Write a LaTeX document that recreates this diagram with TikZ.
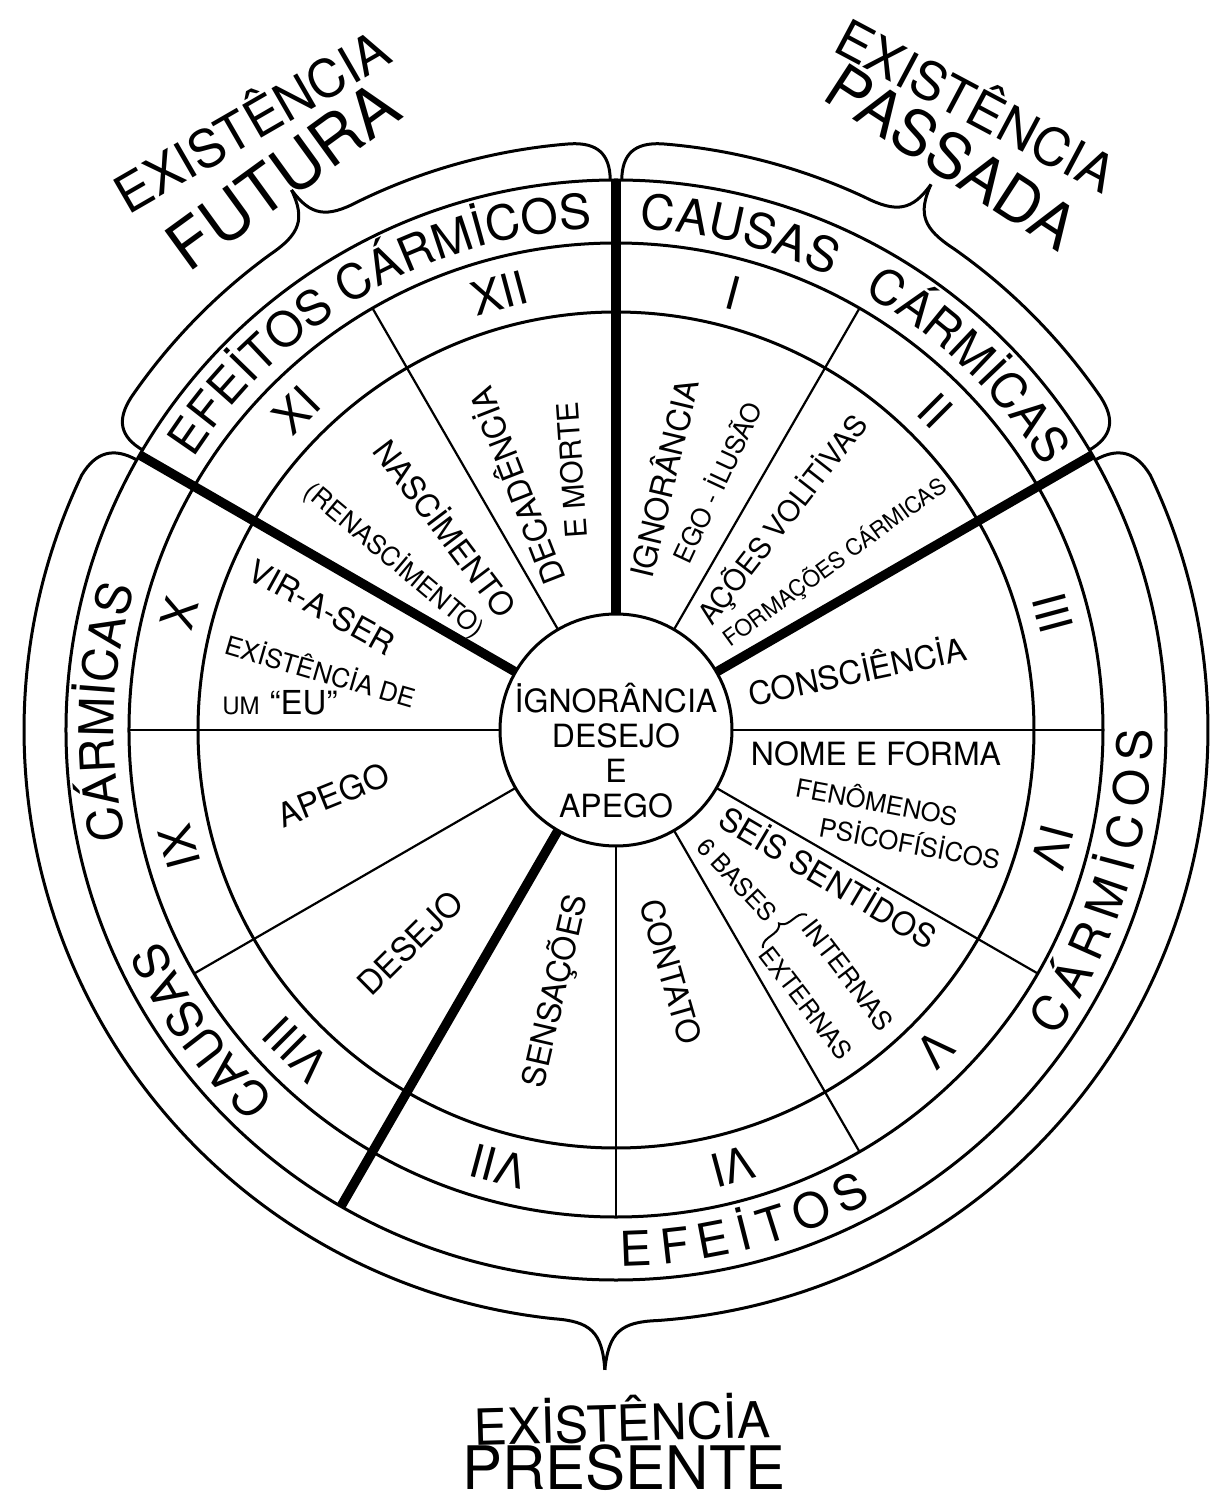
\documentclass[tikz,border=0pt]{standalone}
\usepackage{fontspec}
\setmainfont{TeX Gyre Heros}
\usetikzlibrary{decorations.text,decorations.pathreplacing}
\newcommand\bandfont{\fontsize{24}{28}\selectfont}
\newcommand\bandtext[4]{%
  \path[decorate, decoration={text along path, text={|\bandfont|#1}, text align=center}]
    (#2:#4) arc[start angle=#2, end angle=#3, radius=#4];}
\newcommand\bandfit[4]{%
  \path[decorate, decoration={text along path, text={|\bandfont|#1}, text align=fit to path}]
    (#2:#4) arc[start angle=#2, end angle=#3, radius=#4];}
\begin{document}
\begin{tikzpicture}[x=0.5pt,y=0.5pt,
  circ/.style={line width=1.5pt},
  spoke/.style={line width=1.1pt},
  bigspoke/.style={line width=4.7pt},
  brc/.style={line width=1.5pt},
  lbl/.style={inner sep=0pt, font=\fontsize{16}{18}\selectfont},
  sml/.style={inner sep=0pt, font=\fontsize{13}{15}\selectfont},
  num/.style={inner sep=0pt, font=\fontsize{23}{26}\selectfont},
  big/.style={inner sep=0pt, font=\fontsize{26}{30}\selectfont},
  huge/.style={inner sep=0pt, font=\fontsize{33}{38}\selectfont},
]
\fill[white] (-616,-775) rectangle (609,730);
\useasboundingbox (-616,-775) rectangle (609,730);
\coordinate (O) at (0,0);
% rings
\draw[circ] (O) circle[radius=116];
\draw[circ] (O) circle[radius=418];
\draw[circ] (O) circle[radius=487];
\draw[circ] (O) circle[radius=550];
% spokes
\foreach \a in {0,60,120,180,210,270,300,330}
  \draw[spoke] (\a:116) -- (\a:487);
\foreach \a in {30,90,150,240}
  \draw[bigspoke] (\a:117) -- (\a:550);
% roman numerals
\foreach \n/\a in {I/75,II/45,III/15,IV/-15,V/-45,VI/-75,VII/-105,VIII/-135,IX/-165,X/165,XI/135,XII/105}
  \node[num, rotate=\a-90] (n\n) at (\a:452) {\n};
% band texts
\bandtext{CAUSAS}{96}{56}{502}
\bandtext{CÁRMİCAS}{66}{26}{502}
\bandtext{EFEİTOS CÁRMİCOS}{160}{80}{502}
\bandtext{CÁRMİCAS}{198}{158}{502}
\bandtext{CAUSAS}{236}{196}{502}
\bandfit{EFEİTOS}{-89.5}{-61.5}{536}
\bandfit{CÁRMİCOS}{-35}{0}{536}
% braces
\draw[brc] (89.4:550) .. controls (89.4:576) and (88.2:588) .. (85.5:588)
  arc[start angle=85.5, end angle=65, radius=588]
  .. controls (61.5:588) and (60.3:598) .. (60:630);
\draw[brc] (30.6:550) .. controls (30.6:576) and (31.8:588) .. (34.5:588)
  arc[start angle=34.5, end angle=55, radius=588]
  .. controls (58.5:588) and (59.7:598) .. (60:630);
\draw[brc] (90.6:550) .. controls (90.6:576) and (91.8:588) .. (94.5:588)
  arc[start angle=94.5, end angle=116, radius=588]
  .. controls (119.5:588) and (120.7:598) .. (121:630);
\draw[brc] (149.4:550) .. controls (149.4:576) and (148.2:588) .. (145.5:588)
  arc[start angle=145.5, end angle=126, radius=588]
  .. controls (122.5:588) and (121.3:598) .. (121:630);
\draw[brc] (150.6:550) .. controls (150.6:576) and (151.8:590) .. (154.5:592)
  arc[start angle=154.5, end angle=264, radius=592]
  .. controls (267.5:592) and (268.7:602) .. (269:640);
\draw[brc] (29.4:550) .. controls (29.4:576) and (28.2:590) .. (25.5:592)
  arc[start angle=25.5, end angle=-86, radius=592]
  .. controls (-89.5:592) and (-90.7:602) .. (-91:640);
% core
\node[lbl, anchor=base] (c1) at (0,18) {İGNORÂNCIA};
\node[lbl, anchor=base] (c2) at (0,-18) {DESEJO};
\node[lbl, anchor=base] (c3) at (0,-52) {E};
\node[lbl, anchor=base] (c4) at (0,-87) {APEGO};
% segment texts
\node[lbl, rotate=76.6] (t1a) at (46,252) {IGNORÂNCIA};
\node[sml, rotate=65] (t1b) at (100,248) {EGO - İLUSÃO};
\node[inner sep=0pt, font=\fontsize{14.5}{16}\selectfont, rotate=52] (t2a) at (167,210) {AÇÕES VOLİTİVAS};
\node[inner sep=0pt, font=\fontsize{11.3}{13}\selectfont, rotate=36] (t2b) at (219,168) {FORMAÇÕES CÁRMICAS};
\node[lbl, rotate=12] (t3) at (241,61) {CONSCİÊNCİA};
\node[lbl] (t4a) at (260,-24) {NOME E FORMA};
\node[inner sep=0pt, font=\fontsize{12.7}{14}\selectfont, rotate=-10.6] (t4b) at (261,-70) {FENÔMENOS};
\node[inner sep=0pt, font=\fontsize{12.9}{14}\selectfont, rotate=-10.4] (t4c) at (294,-112) {PSİCOFÍSİCOS};
\node[lbl, rotate=-30.6] (t5a) at (213,-146) {SEİS SENTİDOS};
\node[inner sep=0pt, font=\fontsize{12.4}{14}\selectfont, rotate=-46.6] (t5b) at (121,-150) {6 BASES};
\coordinate (bra) at (147,-218);
\coordinate (brb) at (191,-185);
\draw[line width=1pt, decorate, decoration={brace, amplitude=5pt}] (bra) -- (brb);
\node[sml, rotate=-52.4] (t5c) at (232,-245) {INTERNAS};
\node[inner sep=0pt, font=\fontsize{12.5}{14}\selectfont, rotate=-52.5] (t5d) at (190,-273) {EXTERNAS};
\node[lbl, rotate=-74] (t6) at (55,-242) {CONTATO};
\node[lbl, rotate=77] (t7) at (-61,-261) {SENSAÇÕES};
\node[inner sep=0pt, font=\fontsize{16.5}{18}\selectfont, rotate=44.7] (t8) at (-206,-213) {DESEJO};
\node[inner sep=0pt, font=\fontsize{16.5}{18}\selectfont, rotate=22] (t9) at (-283,-65) {APEGO};
\node[inner sep=0pt, anchor=base west] (t10c) at (-394,15) {{\fontsize{12}{14}\selectfont UM}\hspace{5pt}{\fontsize{16.5}{18}\selectfont “EU”}};
\node[sml, rotate=-16.2] (t10b) at (-295,60) {EXİSTÊNCİA DE};
\node[lbl, rotate=-28.9] (t10a) at (-294,123) {VIR-A-SER};
\node[sml, rotate=-40] (t11b) at (-221,170) {(RENASCİMENTO)};
\node[lbl, rotate=-52.9] (t11a) at (-169,203) {NASCİMENTO};
\node[lbl, rotate=111.3] (t12a) at (-101,243) {DECADÊNCİA};
\node[inner sep=0pt, font=\fontsize{15}{17}\selectfont, rotate=94] (t12b) at (-44,260) {E MORTE};
% outer labels
\node[big, rotate=30] (exf) at (-366,612) {EXISTÊNCIA};
\node[huge, rotate=36] (fut) at (-333,554) {FUTURA};
\node[big, rotate=-28] (exp) at (362,628) {EXISTÊNCIA};
\node[inner sep=0pt, font=\fontsize{31}{36}\selectfont, rotate=-33] (pas) at (336,573) {PASSADA};
\node[inner sep=0pt, font=\fontsize{25}{29}\selectfont, rotate=1.5] (exr) at (6,-689) {EXİSTÊNCİA};
\node[inner sep=0pt, font=\fontsize{30}{34}\selectfont] (pre) at (8,-738) {PRESENTE};
\end{tikzpicture}
\end{document}
